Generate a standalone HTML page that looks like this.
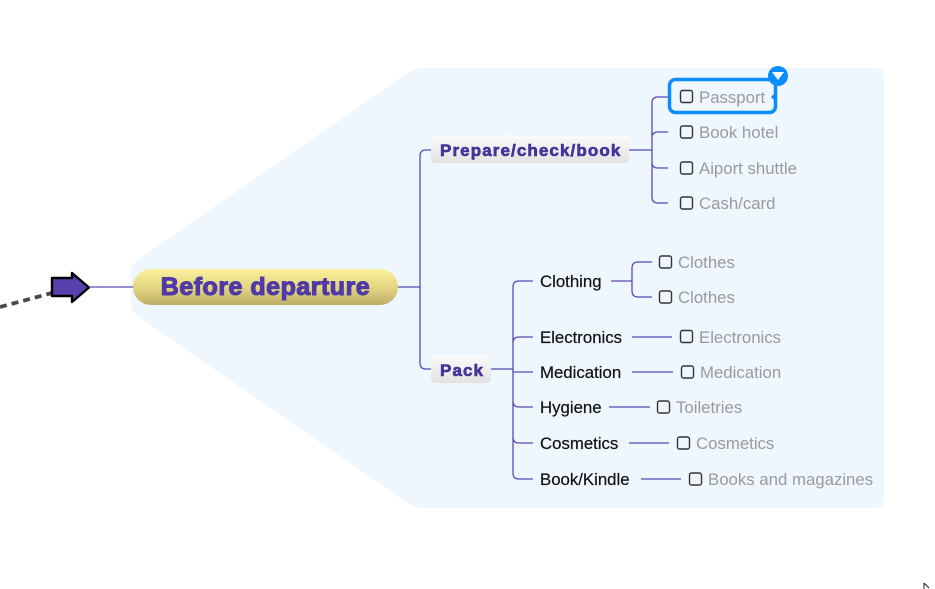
<!DOCTYPE html>
<html><head><meta charset="utf-8"><style>
html,body{margin:0;padding:0;background:#fff;}
svg{display:block;}
.g{font-family:"Liberation Sans",sans-serif;font-size:16.8px;fill:#9a9a9a;}
.k{font-family:"Liberation Sans",sans-serif;font-size:16.8px;fill:#111;stroke:#111;stroke-width:0.2px;}
.p{font-family:"Liberation Sans",sans-serif;font-weight:bold;font-size:17px;letter-spacing:1.1px;fill:#4a35a2;stroke:#3a2a88;stroke-width:0.6px;}
.cb{fill:none;stroke:#333;stroke-width:1.4;}
.ln{fill:none;stroke:#5a4ab4;stroke-width:1.3;}
</style></head><body>
<svg width="935" height="589" viewBox="0 0 935 589" xmlns="http://www.w3.org/2000/svg">
<defs>
<linearGradient id="yel" x1="0" y1="0" x2="0" y2="1">
<stop offset="0" stop-color="#fbf19c"/><stop offset="0.5" stop-color="#e4d682"/><stop offset="1" stop-color="#bcad68"/>
</linearGradient>
<linearGradient id="gry" x1="0" y1="0" x2="0" y2="1">
<stop offset="0" stop-color="#fbfbfb"/><stop offset="1" stop-color="#e2e2e2"/>
</linearGradient>
</defs>
<!-- background -->
<path d="M131,272 Q131,264 139,259 L409,72 Q414,68 421,68 L876,68 Q884,68 884,76 L884,500 Q884,508 876,508 L421,508 Q414,508 409,504 L139,317 Q131,312 131,304 Z" fill="#eff7fe"/>
<!-- dotted connector -->
<line x1="0" y1="307" x2="52" y2="293" stroke="#4a4a4a" stroke-width="3.8" stroke-dasharray="7,5"/>
<!-- arrow -->
<polygon points="52,278 72,278 72,273 89,287.5 72,302 72,296 52,296" fill="#5840ae" stroke="#000" stroke-width="2.4" stroke-linejoin="round"/>
<line x1="89" y1="287" x2="133" y2="287" stroke="#5a4ab4" stroke-width="1.2"/>
<!-- main node -->
<rect x="133" y="269" width="265" height="36" rx="18" fill="url(#yel)"/>
<text x="265.5" y="295" text-anchor="middle" font-family="'Liberation Sans',sans-serif" font-weight="bold" font-size="25" letter-spacing="0.5" fill="#4f3aa6" stroke="#4f3aa6" stroke-width="1.1">Before departure</text>
<!-- main connectors -->
<path class="ln" d="M398,287 L420,287 M431,150 L426,150 Q420,150 420,156 L420,363 Q420,369 426,369 L431,369"/>
<!-- Prepare node -->
<rect x="431" y="135" width="198" height="28" rx="4" fill="url(#gry)"/>
<text class="p" x="440" y="156">Prepare/check/book</text>
<path class="ln" d="M629,150 L652,150 M668,97 L658,97 Q652,97 652,103 L652,197 Q652,203 658,203 L668,203 M652,138 Q652,132 658,132 L668,132 M652,162 Q652,168 658,168 L668,168"/>
<!-- Passport selection -->
<rect x="669.5" y="79.5" width="106" height="33" rx="6" fill="none" stroke="#0a8eff" stroke-width="3.5"/>
<circle cx="778" cy="76" r="10" fill="#0a8eff"/>
<polygon points="772,72 784,72 778,80" fill="#fff"/>
<polygon points="776,92 771,97 776,102" fill="#0a8eff"/>
<rect class="cb" x="680.5" y="90.5" width="12" height="12" rx="2"/>
<text class="g" x="699" y="103">Passport</text>
<rect class="cb" x="680.5" y="126" width="12" height="12" rx="2"/>
<text class="g" x="699" y="138">Book hotel</text>
<rect class="cb" x="680.5" y="162" width="12" height="12" rx="2"/>
<text class="g" x="699" y="174">Aiport shuttle</text>
<rect class="cb" x="680.5" y="197" width="12" height="12" rx="2"/>
<text class="g" x="699" y="209">Cash/card</text>
<!-- Pack node -->
<rect x="431" y="355" width="60" height="28" rx="4" fill="url(#gry)"/>
<text class="p" x="440" y="376">Pack</text>
<path class="ln" d="M491,369 L513,369 M533,281 L519,281 Q513,281 513,287 L513,473 Q513,479 519,479 L533,479 M513,343 Q513,337 519,337 L533,337 M513,372 L533,372 M513,401 Q513,407 519,407 L533,407 M513,437 Q513,443 519,443 L533,443"/>
<text class="k" x="540" y="287">Clothing</text>
<text class="k" x="540" y="343">Electronics</text>
<text class="k" x="540" y="378">Medication</text>
<text class="k" x="540" y="413">Hygiene</text>
<text class="k" x="540" y="449">Cosmetics</text>
<text class="k" x="540" y="485">Book/Kindle</text>
<!-- Clothing children -->
<path class="ln" d="M611,281 L632,281 M652,262 L638,262 Q632,262 632,268 L632,291 Q632,297 638,297 L652,297"/>
<rect class="cb" x="659.5" y="256" width="12" height="12" rx="2"/>
<text class="g" x="678" y="268">Clothes</text>
<rect class="cb" x="659.5" y="291" width="12" height="12" rx="2"/>
<text class="g" x="678" y="303">Clothes</text>
<!-- others -->
<line class="ln" x1="632" y1="337" x2="672" y2="337"/>
<rect class="cb" x="680.5" y="330.5" width="12" height="12" rx="2"/>
<text class="g" x="699" y="343">Electronics</text>
<line class="ln" x1="632" y1="372" x2="673" y2="372"/>
<rect class="cb" x="681.5" y="366" width="12" height="12" rx="2"/>
<text class="g" x="700" y="378">Medication</text>
<line class="ln" x1="609" y1="407" x2="650" y2="407"/>
<rect class="cb" x="657.5" y="401" width="12" height="12" rx="2"/>
<text class="g" x="676" y="413">Toiletries</text>
<line class="ln" x1="629" y1="443" x2="669" y2="443"/>
<rect class="cb" x="677.5" y="437" width="12" height="12" rx="2"/>
<text class="g" x="696" y="449">Cosmetics</text>
<line class="ln" x1="641" y1="479" x2="681" y2="479"/>
<rect class="cb" x="689.5" y="473" width="12" height="12" rx="2"/>
<text class="g" x="708" y="485">Books and magazines</text>
<!-- cursor -->
<path d="M924,583 L924,589 M924,583 L929,588" stroke="#222" stroke-width="1" fill="none"/>
</svg>
</body></html>
